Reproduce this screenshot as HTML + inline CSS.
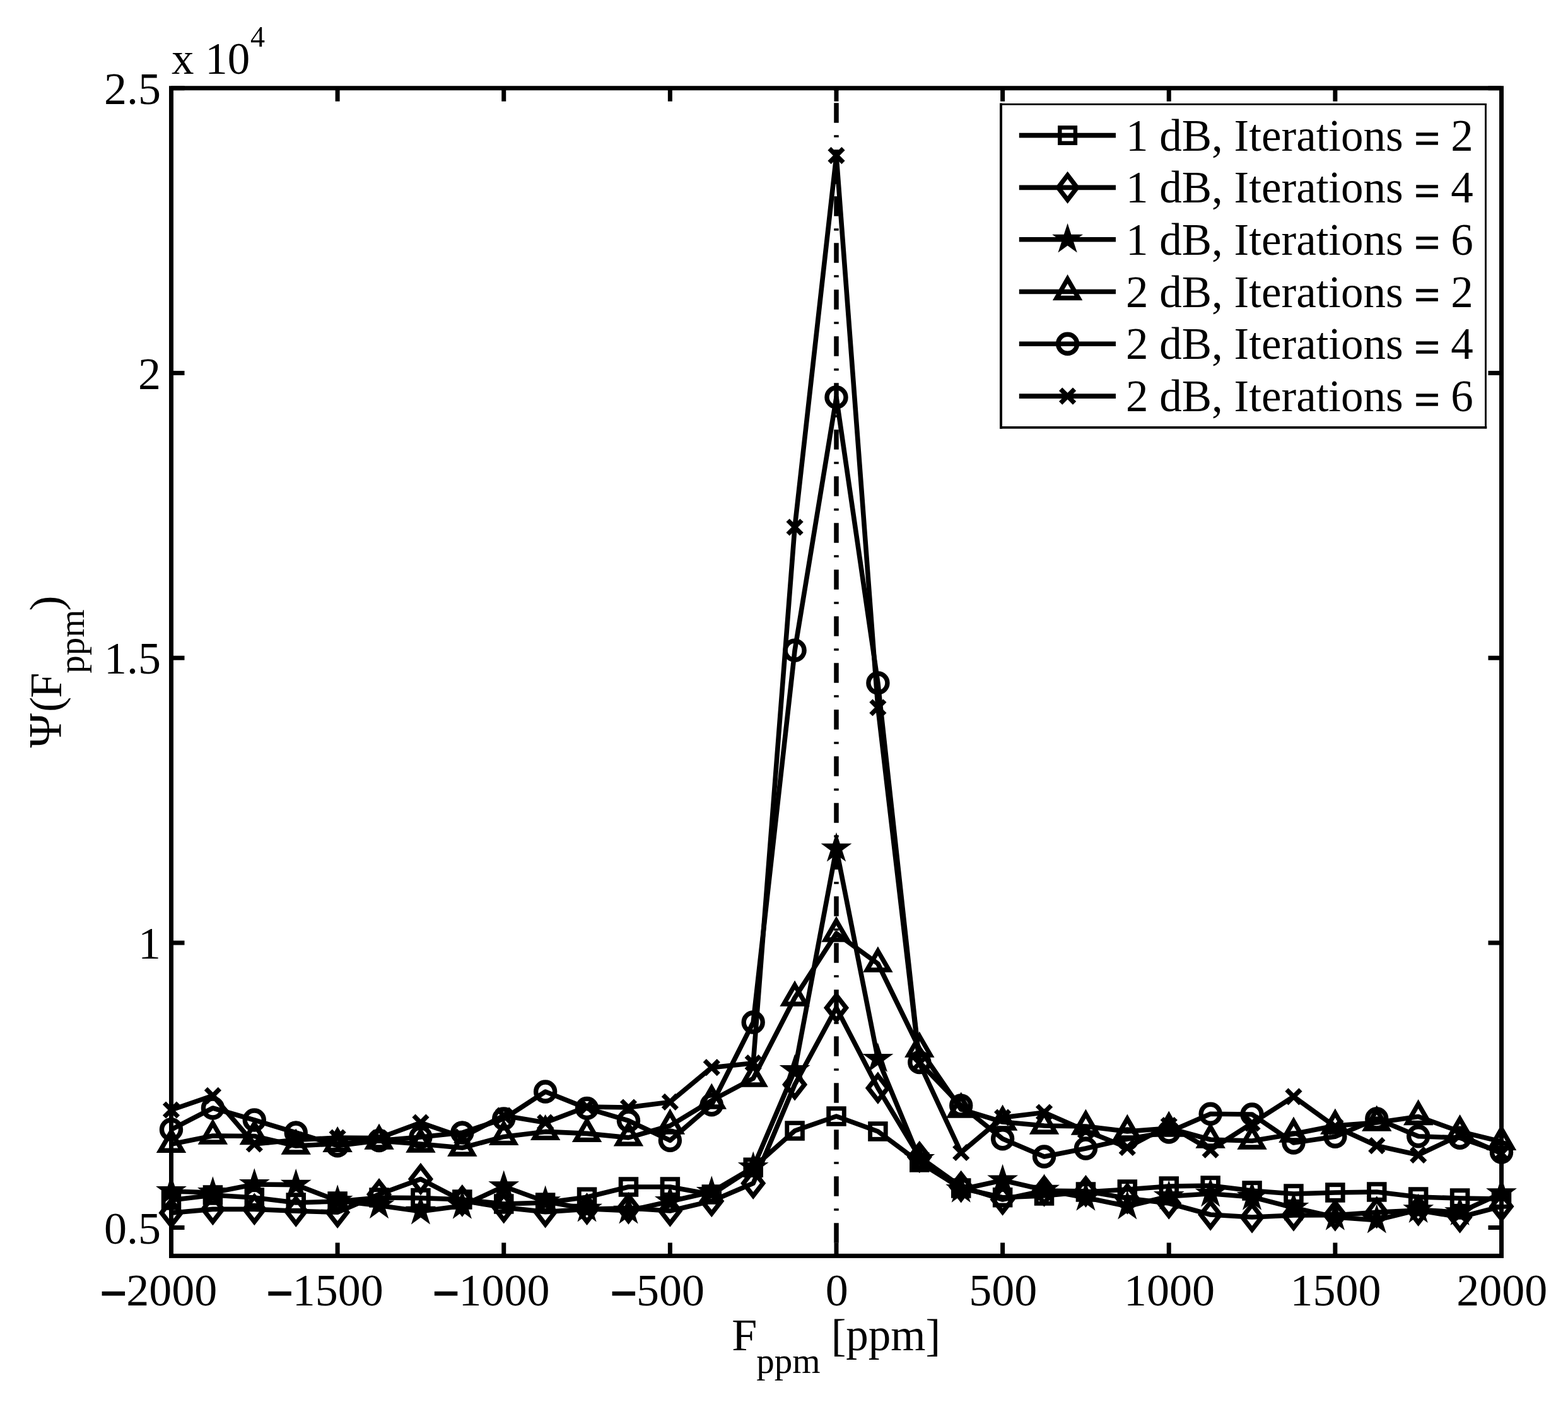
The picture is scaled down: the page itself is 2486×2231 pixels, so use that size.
<!DOCTYPE html>
<html lang="en"><head><meta charset="utf-8"><title>Psi(F_ppm) vs F_ppm</title>
<style>html,body{margin:0;padding:0;background:#fff}body{width:2486px;height:2231px;overflow:hidden}svg{display:block}
text{font-family:"Liberation Serif","DejaVu Serif",serif;fill:#000}
.ln{fill:none;stroke:#000;stroke-width:7.6;stroke-linejoin:round}
.mk{fill:none;stroke:#000;stroke-width:7.4;stroke-linejoin:miter;stroke-miterlimit:10}
.mk .fill{fill:#000;stroke:none}
.ax{fill:none;stroke:#000;stroke-width:7.0}
.t{font-size:72px}.mn{stroke:#000;stroke-width:3.0}.eq{stroke:#000;stroke-width:1.7}
</style></head><body>
<svg width="2486" height="2231" viewBox="0 0 2486 2231">
<rect width="2486" height="2231" fill="#fff"/>
<defs><clipPath id="c"><rect x="271.5" y="139.75" width="2109" height="1851.65"/></clipPath></defs>
<path class="ax" d="M271.5 1991.4V1970.4M271.5 139.75V160.75M535.12 1991.4V1970.4M535.12 139.75V160.75M798.75 1991.4V1970.4M798.75 139.75V160.75M1062.38 1991.4V1970.4M1062.38 139.75V160.75M1326 1991.4V1970.4M1326 139.75V160.75M1589.62 1991.4V1970.4M1589.62 139.75V160.75M1853.25 1991.4V1970.4M1853.25 139.75V160.75M2116.88 1991.4V1970.4M2116.88 139.75V160.75M2380.5 1991.4V1970.4M2380.5 139.75V160.75M271.5 139.75H292.5M2380.5 139.75H2359.5M271.5 591.46H292.5M2380.5 591.46H2359.5M271.5 1043.17H292.5M2380.5 1043.17H2359.5M271.5 1494.89H292.5M2380.5 1494.89H2359.5M271.5 1946.6H292.5M2380.5 1946.6H2359.5"/>
<path d="M1326 139.75 V1991.4" fill="none" stroke="#000" stroke-width="7.5" stroke-dasharray="31.5 19.5 3.5 19.5" stroke-dashoffset="-23.4"/>
<g clip-path="url(#c)">
<polyline class="ln" points="271.5,1903 337.41,1895 403.31,1899 469.22,1907 535.12,1905 601.03,1899 666.94,1899.6 732.84,1902 798.75,1909 864.66,1907 930.56,1898.2 996.47,1882 1062.38,1882 1128.28,1894 1194.19,1851.2 1260.09,1793 1326,1770 1391.91,1794 1457.81,1843 1523.72,1884 1589.62,1898.7 1655.53,1896 1721.44,1890 1787.34,1886 1853.25,1881 1919.16,1880 1985.06,1888 2050.97,1893 2116.88,1891 2182.78,1890 2248.69,1898 2314.59,1900 2380.5,1901"/>
<polyline class="ln" points="271.5,1923.2 337.41,1917.4 403.31,1917.4 469.22,1920.2 535.12,1922.2 601.03,1893.8 666.94,1869.6 732.84,1903.8 798.75,1914.6 864.66,1921.6 930.56,1917.2 996.47,1915.8 1062.38,1920 1128.28,1904.4 1194.19,1876.2 1260.09,1719.7 1326,1598 1391.91,1725.2 1457.81,1834.5 1523.72,1881.6 1589.62,1902 1655.53,1888 1721.44,1888.8 1787.34,1900 1853.25,1908 1919.16,1926 1985.06,1930 2050.97,1927 2116.88,1926.8 2182.78,1922.4 2248.69,1919 2314.59,1930 2380.5,1913"/>
<polyline class="ln" points="271.5,1889 337.41,1891 403.31,1878 469.22,1878.6 535.12,1904 601.03,1911.4 666.94,1920.7 732.84,1912 798.75,1881.3 864.66,1905.3 930.56,1916.7 996.47,1919.8 1062.38,1905 1128.28,1890 1194.19,1851.3 1260.09,1697 1326,1345.5 1391.91,1679 1457.81,1838 1523.72,1886 1589.62,1871.5 1655.53,1886.7 1721.44,1899 1787.34,1912.7 1853.25,1897 1919.16,1892.7 1985.06,1898 2050.97,1915 2116.88,1930 2182.78,1934.6 2248.69,1918.2 2314.59,1922.2 2380.5,1892.1"/>
<polyline class="ln" points="271.5,1814.3 337.41,1801 403.31,1801.5 469.22,1817 535.12,1813.4 601.03,1809 666.94,1814 732.84,1820 798.75,1802.4 864.66,1794.4 930.56,1797.4 996.47,1803.9 1062.38,1785 1128.28,1745 1194.19,1710 1260.09,1582 1326,1480 1391.91,1528 1457.81,1663 1523.72,1759 1589.62,1779 1655.53,1785 1721.44,1786 1787.34,1794 1853.25,1789 1919.16,1807 1985.06,1809 2050.97,1798 2116.88,1785 2182.78,1780 2248.69,1770.5 2314.59,1794.3 2380.5,1810.2"/>
<polyline class="ln" points="271.5,1791 337.41,1757 403.31,1776 469.22,1796 535.12,1816.7 601.03,1808.5 666.94,1803 732.84,1796 798.75,1774 864.66,1731 930.56,1757.4 996.47,1777 1062.38,1808.3 1128.28,1751.7 1194.19,1621 1260.09,1031.3 1326,630 1391.91,1083 1457.81,1684.5 1523.72,1753 1589.62,1805.7 1655.53,1834 1721.44,1821 1787.34,1806 1853.25,1795 1919.16,1766.3 1985.06,1767 2050.97,1812 2116.88,1802.2 2182.78,1774 2248.69,1801.7 2314.59,1804.2 2380.5,1827"/>
<polyline class="ln" points="271.5,1760 337.41,1737.3 403.31,1814 469.22,1807.5 535.12,1804 601.03,1804.5 666.94,1780.2 732.84,1803 798.75,1769 864.66,1780 930.56,1755 996.47,1756 1062.38,1747.4 1128.28,1692.7 1194.19,1685.7 1260.09,836 1326,246.7 1391.91,1122 1457.81,1686 1523.72,1827.5 1589.62,1772 1655.53,1764 1721.44,1793 1787.34,1819.5 1853.25,1784.5 1919.16,1823.2 1985.06,1781 2050.97,1738.8 2116.88,1786.5 2182.78,1816.7 2248.69,1831.3 2314.59,1800 2380.5,1829"/>
</g>
<g class="mk"><rect stroke-width="6.9" x="259.2" y="1890.7" width="24.6" height="24.6"/><rect stroke-width="6.9" x="325.11" y="1882.7" width="24.6" height="24.6"/><rect stroke-width="6.9" x="391.01" y="1886.7" width="24.6" height="24.6"/><rect stroke-width="6.9" x="456.92" y="1894.7" width="24.6" height="24.6"/><rect stroke-width="6.9" x="522.83" y="1892.7" width="24.6" height="24.6"/><rect stroke-width="6.9" x="588.73" y="1886.7" width="24.6" height="24.6"/><rect stroke-width="6.9" x="654.64" y="1887.3" width="24.6" height="24.6"/><rect stroke-width="6.9" x="720.54" y="1889.7" width="24.6" height="24.6"/><rect stroke-width="6.9" x="786.45" y="1896.7" width="24.6" height="24.6"/><rect stroke-width="6.9" x="852.36" y="1894.7" width="24.6" height="24.6"/><rect stroke-width="6.9" x="918.26" y="1885.9" width="24.6" height="24.6"/><rect stroke-width="6.9" x="984.17" y="1869.7" width="24.6" height="24.6"/><rect stroke-width="6.9" x="1050.08" y="1869.7" width="24.6" height="24.6"/><rect stroke-width="6.9" x="1115.98" y="1881.7" width="24.6" height="24.6"/><rect stroke-width="6.9" x="1181.89" y="1838.9" width="24.6" height="24.6"/><rect stroke-width="6.9" x="1247.79" y="1780.7" width="24.6" height="24.6"/><rect stroke-width="6.9" x="1313.7" y="1757.7" width="24.6" height="24.6"/><rect stroke-width="6.9" x="1379.61" y="1781.7" width="24.6" height="24.6"/><rect stroke-width="6.9" x="1445.51" y="1830.7" width="24.6" height="24.6"/><rect stroke-width="6.9" x="1511.42" y="1871.7" width="24.6" height="24.6"/><rect stroke-width="6.9" x="1577.33" y="1886.4" width="24.6" height="24.6"/><rect stroke-width="6.9" x="1643.23" y="1883.7" width="24.6" height="24.6"/><rect stroke-width="6.9" x="1709.14" y="1877.7" width="24.6" height="24.6"/><rect stroke-width="6.9" x="1775.04" y="1873.7" width="24.6" height="24.6"/><rect stroke-width="6.9" x="1840.95" y="1868.7" width="24.6" height="24.6"/><rect stroke-width="6.9" x="1906.86" y="1867.7" width="24.6" height="24.6"/><rect stroke-width="6.9" x="1972.76" y="1875.7" width="24.6" height="24.6"/><rect stroke-width="6.9" x="2038.67" y="1880.7" width="24.6" height="24.6"/><rect stroke-width="6.9" x="2104.57" y="1878.7" width="24.6" height="24.6"/><rect stroke-width="6.9" x="2170.48" y="1877.7" width="24.6" height="24.6"/><rect stroke-width="6.9" x="2236.39" y="1885.7" width="24.6" height="24.6"/><rect stroke-width="6.9" x="2302.29" y="1887.7" width="24.6" height="24.6"/><rect stroke-width="6.9" x="2368.2" y="1888.7" width="24.6" height="24.6"/></g>
<g class="mk"><path d="M271.5 1903.4L286.9 1923.2L271.5 1943L256.1 1923.2Z"/><path d="M337.41 1897.6L352.81 1917.4L337.41 1937.2L322.01 1917.4Z"/><path d="M403.31 1897.6L418.71 1917.4L403.31 1937.2L387.91 1917.4Z"/><path d="M469.22 1900.4L484.62 1920.2L469.22 1940L453.82 1920.2Z"/><path d="M535.12 1902.4L550.52 1922.2L535.12 1942L519.73 1922.2Z"/><path d="M601.03 1874L616.43 1893.8L601.03 1913.6L585.63 1893.8Z"/><path d="M666.94 1849.8L682.34 1869.6L666.94 1889.4L651.54 1869.6Z"/><path d="M732.84 1884L748.24 1903.8L732.84 1923.6L717.44 1903.8Z"/><path d="M798.75 1894.8L814.15 1914.6L798.75 1934.4L783.35 1914.6Z"/><path d="M864.66 1901.8L880.06 1921.6L864.66 1941.4L849.26 1921.6Z"/><path d="M930.56 1897.4L945.96 1917.2L930.56 1937L915.16 1917.2Z"/><path d="M996.47 1896L1011.87 1915.8L996.47 1935.6L981.07 1915.8Z"/><path d="M1062.38 1900.2L1077.78 1920L1062.38 1939.8L1046.97 1920Z"/><path d="M1128.28 1884.6L1143.68 1904.4L1128.28 1924.2L1112.88 1904.4Z"/><path d="M1194.19 1856.4L1209.59 1876.2L1194.19 1896L1178.79 1876.2Z"/><path d="M1260.09 1699.9L1275.49 1719.7L1260.09 1739.5L1244.69 1719.7Z"/><path d="M1326 1578.2L1341.4 1598L1326 1617.8L1310.6 1598Z"/><path d="M1391.91 1705.4L1407.31 1725.2L1391.91 1745L1376.51 1725.2Z"/><path d="M1457.81 1814.7L1473.21 1834.5L1457.81 1854.3L1442.41 1834.5Z"/><path d="M1523.72 1861.8L1539.12 1881.6L1523.72 1901.4L1508.32 1881.6Z"/><path d="M1589.62 1882.2L1605.03 1902L1589.62 1921.8L1574.22 1902Z"/><path d="M1655.53 1868.2L1670.93 1888L1655.53 1907.8L1640.13 1888Z"/><path d="M1721.44 1869L1736.84 1888.8L1721.44 1908.6L1706.04 1888.8Z"/><path d="M1787.34 1880.2L1802.74 1900L1787.34 1919.8L1771.94 1900Z"/><path d="M1853.25 1888.2L1868.65 1908L1853.25 1927.8L1837.85 1908Z"/><path d="M1919.16 1906.2L1934.56 1926L1919.16 1945.8L1903.76 1926Z"/><path d="M1985.06 1910.2L2000.46 1930L1985.06 1949.8L1969.66 1930Z"/><path d="M2050.97 1907.2L2066.37 1927L2050.97 1946.8L2035.57 1927Z"/><path d="M2116.88 1907L2132.28 1926.8L2116.88 1946.6L2101.47 1926.8Z"/><path d="M2182.78 1902.6L2198.18 1922.4L2182.78 1942.2L2167.38 1922.4Z"/><path d="M2248.69 1899.2L2264.09 1919L2248.69 1938.8L2233.29 1919Z"/><path d="M2314.59 1910.2L2329.99 1930L2314.59 1949.8L2299.19 1930Z"/><path d="M2380.5 1893.2L2395.9 1913L2380.5 1932.8L2365.1 1913Z"/></g>
<g class="mk"><polygon class="fill" points="271.5,1863.3 277.27,1881.06 295.94,1881.06 280.84,1892.03 286.61,1909.79 271.5,1898.82 256.39,1909.79 262.16,1892.03 247.06,1881.06 265.73,1881.06"/><polygon class="fill" points="337.41,1865.3 343.18,1883.06 361.85,1883.06 346.74,1894.03 352.51,1911.79 337.41,1900.82 322.3,1911.79 328.07,1894.03 312.96,1883.06 331.64,1883.06"/><polygon class="fill" points="403.31,1852.3 409.08,1870.06 427.75,1870.06 412.65,1881.03 418.42,1898.79 403.31,1887.82 388.21,1898.79 393.98,1881.03 378.87,1870.06 397.54,1870.06"/><polygon class="fill" points="469.22,1852.9 474.99,1870.66 493.66,1870.66 478.56,1881.63 484.32,1899.39 469.22,1888.42 454.11,1899.39 459.88,1881.63 444.78,1870.66 463.45,1870.66"/><polygon class="fill" points="535.12,1878.3 540.9,1896.06 559.57,1896.06 544.46,1907.03 550.23,1924.79 535.12,1913.82 520.02,1924.79 525.79,1907.03 510.68,1896.06 529.35,1896.06"/><polygon class="fill" points="601.03,1885.7 606.8,1903.46 625.47,1903.46 610.37,1914.43 616.14,1932.19 601.03,1921.22 585.93,1932.19 591.69,1914.43 576.59,1903.46 595.26,1903.46"/><polygon class="fill" points="666.94,1895 672.71,1912.76 691.38,1912.76 676.27,1923.73 682.04,1941.49 666.94,1930.52 651.83,1941.49 657.6,1923.73 642.5,1912.76 661.17,1912.76"/><polygon class="fill" points="732.84,1886.3 738.61,1904.06 757.29,1904.06 742.18,1915.03 747.95,1932.79 732.84,1921.82 717.74,1932.79 723.51,1915.03 708.4,1904.06 727.07,1904.06"/><polygon class="fill" points="798.75,1855.6 804.52,1873.36 823.19,1873.36 808.09,1884.33 813.86,1902.09 798.75,1891.12 783.64,1902.09 789.41,1884.33 774.31,1873.36 792.98,1873.36"/><polygon class="fill" points="864.66,1879.6 870.43,1897.36 889.1,1897.36 873.99,1908.33 879.76,1926.09 864.66,1915.12 849.55,1926.09 855.32,1908.33 840.21,1897.36 858.89,1897.36"/><polygon class="fill" points="930.56,1891 936.33,1908.76 955,1908.76 939.9,1919.73 945.67,1937.49 930.56,1926.52 915.46,1937.49 921.23,1919.73 906.12,1908.76 924.79,1908.76"/><polygon class="fill" points="996.47,1894.1 1002.24,1911.86 1020.91,1911.86 1005.81,1922.83 1011.57,1940.59 996.47,1929.62 981.36,1940.59 987.13,1922.83 972.03,1911.86 990.7,1911.86"/><polygon class="fill" points="1062.38,1879.3 1068.15,1897.06 1086.82,1897.06 1071.71,1908.03 1077.48,1925.79 1062.38,1914.82 1047.27,1925.79 1053.04,1908.03 1037.93,1897.06 1056.6,1897.06"/><polygon class="fill" points="1128.28,1864.3 1134.05,1882.06 1152.72,1882.06 1137.62,1893.03 1143.39,1910.79 1128.28,1899.82 1113.18,1910.79 1118.94,1893.03 1103.84,1882.06 1122.51,1882.06"/><polygon class="fill" points="1194.19,1825.6 1199.96,1843.36 1218.63,1843.36 1203.52,1854.33 1209.29,1872.09 1194.19,1861.12 1179.08,1872.09 1184.85,1854.33 1169.75,1843.36 1188.42,1843.36"/><polygon class="fill" points="1260.09,1671.3 1265.86,1689.06 1284.54,1689.06 1269.43,1700.03 1275.2,1717.79 1260.09,1706.82 1244.99,1717.79 1250.76,1700.03 1235.65,1689.06 1254.32,1689.06"/><polygon class="fill" points="1326,1319.8 1331.77,1337.56 1350.44,1337.56 1335.34,1348.53 1341.11,1366.29 1326,1355.32 1310.89,1366.29 1316.66,1348.53 1301.56,1337.56 1320.23,1337.56"/><polygon class="fill" points="1391.91,1653.3 1397.68,1671.06 1416.35,1671.06 1401.24,1682.03 1407.01,1699.79 1391.91,1688.82 1376.8,1699.79 1382.57,1682.03 1367.46,1671.06 1386.14,1671.06"/><polygon class="fill" points="1457.81,1812.3 1463.58,1830.06 1482.25,1830.06 1467.15,1841.03 1472.92,1858.79 1457.81,1847.82 1442.71,1858.79 1448.48,1841.03 1433.37,1830.06 1452.04,1830.06"/><polygon class="fill" points="1523.72,1860.3 1529.49,1878.06 1548.16,1878.06 1533.06,1889.03 1538.82,1906.79 1523.72,1895.82 1508.61,1906.79 1514.38,1889.03 1499.28,1878.06 1517.95,1878.06"/><polygon class="fill" points="1589.62,1845.8 1595.4,1863.56 1614.07,1863.56 1598.96,1874.53 1604.73,1892.29 1589.62,1881.32 1574.52,1892.29 1580.29,1874.53 1565.18,1863.56 1583.85,1863.56"/><polygon class="fill" points="1655.53,1861 1661.3,1878.76 1679.97,1878.76 1664.87,1889.73 1670.64,1907.49 1655.53,1896.52 1640.43,1907.49 1646.19,1889.73 1631.09,1878.76 1649.76,1878.76"/><polygon class="fill" points="1721.44,1873.3 1727.21,1891.06 1745.88,1891.06 1730.77,1902.03 1736.54,1919.79 1721.44,1908.82 1706.33,1919.79 1712.1,1902.03 1697,1891.06 1715.67,1891.06"/><polygon class="fill" points="1787.34,1887 1793.11,1904.76 1811.79,1904.76 1796.68,1915.73 1802.45,1933.49 1787.34,1922.52 1772.24,1933.49 1778.01,1915.73 1762.9,1904.76 1781.57,1904.76"/><polygon class="fill" points="1853.25,1871.3 1859.02,1889.06 1877.69,1889.06 1862.59,1900.03 1868.36,1917.79 1853.25,1906.82 1838.14,1917.79 1843.91,1900.03 1828.81,1889.06 1847.48,1889.06"/><polygon class="fill" points="1919.16,1867 1924.93,1884.76 1943.6,1884.76 1928.49,1895.73 1934.26,1913.49 1919.16,1902.52 1904.05,1913.49 1909.82,1895.73 1894.71,1884.76 1913.39,1884.76"/><polygon class="fill" points="1985.06,1872.3 1990.83,1890.06 2009.5,1890.06 1994.4,1901.03 2000.17,1918.79 1985.06,1907.82 1969.96,1918.79 1975.73,1901.03 1960.62,1890.06 1979.29,1890.06"/><polygon class="fill" points="2050.97,1889.3 2056.74,1907.06 2075.41,1907.06 2060.31,1918.03 2066.07,1935.79 2050.97,1924.82 2035.86,1935.79 2041.63,1918.03 2026.53,1907.06 2045.2,1907.06"/><polygon class="fill" points="2116.88,1904.3 2122.65,1922.06 2141.32,1922.06 2126.21,1933.03 2131.98,1950.79 2116.88,1939.82 2101.77,1950.79 2107.54,1933.03 2092.43,1922.06 2111.1,1922.06"/><polygon class="fill" points="2182.78,1908.9 2188.55,1926.66 2207.22,1926.66 2192.12,1937.63 2197.89,1955.39 2182.78,1944.42 2167.68,1955.39 2173.44,1937.63 2158.34,1926.66 2177.01,1926.66"/><polygon class="fill" points="2248.69,1892.5 2254.46,1910.26 2273.13,1910.26 2258.02,1921.23 2263.79,1938.99 2248.69,1928.02 2233.58,1938.99 2239.35,1921.23 2224.25,1910.26 2242.92,1910.26"/><polygon class="fill" points="2314.59,1896.5 2320.36,1914.26 2339.04,1914.26 2323.93,1925.23 2329.7,1942.99 2314.59,1932.02 2299.49,1942.99 2305.26,1925.23 2290.15,1914.26 2308.82,1914.26"/><polygon class="fill" points="2380.5,1866.4 2386.27,1884.16 2404.94,1884.16 2389.84,1895.13 2395.61,1912.89 2380.5,1901.92 2365.39,1912.89 2371.16,1895.13 2356.06,1884.16 2374.73,1884.16"/></g>
<g class="mk"><polygon points="271.5,1794.3 288.82,1824.3 254.18,1824.3"/><polygon points="337.41,1781 354.73,1811 320.09,1811"/><polygon points="403.31,1781.5 420.63,1811.5 385.99,1811.5"/><polygon points="469.22,1797 486.54,1827 451.9,1827"/><polygon points="535.12,1793.4 552.45,1823.4 517.8,1823.4"/><polygon points="601.03,1789 618.35,1819 583.71,1819"/><polygon points="666.94,1794 684.26,1824 649.62,1824"/><polygon points="732.84,1800 750.16,1830 715.52,1830"/><polygon points="798.75,1782.4 816.07,1812.4 781.43,1812.4"/><polygon points="864.66,1774.4 881.98,1804.4 847.34,1804.4"/><polygon points="930.56,1777.4 947.88,1807.4 913.24,1807.4"/><polygon points="996.47,1783.9 1013.79,1813.9 979.15,1813.9"/><polygon points="1062.38,1765 1079.7,1795 1045.05,1795"/><polygon points="1128.28,1725 1145.6,1755 1110.96,1755"/><polygon points="1194.19,1690 1211.51,1720 1176.87,1720"/><polygon points="1260.09,1562 1277.41,1592 1242.77,1592"/><polygon points="1326,1460 1343.32,1490 1308.68,1490"/><polygon points="1391.91,1508 1409.23,1538 1374.59,1538"/><polygon points="1457.81,1643 1475.13,1673 1440.49,1673"/><polygon points="1523.72,1739 1541.04,1769 1506.4,1769"/><polygon points="1589.62,1759 1606.95,1789 1572.3,1789"/><polygon points="1655.53,1765 1672.85,1795 1638.21,1795"/><polygon points="1721.44,1766 1738.76,1796 1704.12,1796"/><polygon points="1787.34,1774 1804.66,1804 1770.02,1804"/><polygon points="1853.25,1769 1870.57,1799 1835.93,1799"/><polygon points="1919.16,1787 1936.48,1817 1901.84,1817"/><polygon points="1985.06,1789 2002.38,1819 1967.74,1819"/><polygon points="2050.97,1778 2068.29,1808 2033.65,1808"/><polygon points="2116.88,1765 2134.2,1795 2099.55,1795"/><polygon points="2182.78,1760 2200.1,1790 2165.46,1790"/><polygon points="2248.69,1750.5 2266.01,1780.5 2231.37,1780.5"/><polygon points="2314.59,1774.3 2331.91,1804.3 2297.27,1804.3"/><polygon points="2380.5,1790.2 2397.82,1820.2 2363.18,1820.2"/></g>
<g class="mk"><circle cx="271.5" cy="1791" r="15"/><circle cx="337.41" cy="1757" r="15"/><circle cx="403.31" cy="1776" r="15"/><circle cx="469.22" cy="1796" r="15"/><circle cx="535.12" cy="1816.7" r="15"/><circle cx="601.03" cy="1808.5" r="15"/><circle cx="666.94" cy="1803" r="15"/><circle cx="732.84" cy="1796" r="15"/><circle cx="798.75" cy="1774" r="15"/><circle cx="864.66" cy="1731" r="15"/><circle cx="930.56" cy="1757.4" r="15"/><circle cx="996.47" cy="1777" r="15"/><circle cx="1062.38" cy="1808.3" r="15"/><circle cx="1128.28" cy="1751.7" r="15"/><circle cx="1194.19" cy="1621" r="15"/><circle cx="1260.09" cy="1031.3" r="15"/><circle cx="1326" cy="630" r="15"/><circle cx="1391.91" cy="1083" r="15"/><circle cx="1457.81" cy="1684.5" r="15"/><circle cx="1523.72" cy="1753" r="15"/><circle cx="1589.62" cy="1805.7" r="15"/><circle cx="1655.53" cy="1834" r="15"/><circle cx="1721.44" cy="1821" r="15"/><circle cx="1787.34" cy="1806" r="15"/><circle cx="1853.25" cy="1795" r="15"/><circle cx="1919.16" cy="1766.3" r="15"/><circle cx="1985.06" cy="1767" r="15"/><circle cx="2050.97" cy="1812" r="15"/><circle cx="2116.88" cy="1802.2" r="15"/><circle cx="2182.78" cy="1774" r="15"/><circle cx="2248.69" cy="1801.7" r="15"/><circle cx="2314.59" cy="1804.2" r="15"/><circle cx="2380.5" cy="1827" r="15"/></g>
<g class="mk"><path d="M260.5 1749L282.5 1771M260.5 1771L282.5 1749"/><path d="M326.41 1726.3L348.41 1748.3M326.41 1748.3L348.41 1726.3"/><path d="M392.31 1803L414.31 1825M392.31 1825L414.31 1803"/><path d="M458.22 1796.5L480.22 1818.5M458.22 1818.5L480.22 1796.5"/><path d="M524.12 1793L546.12 1815M524.12 1815L546.12 1793"/><path d="M590.03 1793.5L612.03 1815.5M590.03 1815.5L612.03 1793.5"/><path d="M655.94 1769.2L677.94 1791.2M655.94 1791.2L677.94 1769.2"/><path d="M721.84 1792L743.84 1814M721.84 1814L743.84 1792"/><path d="M787.75 1758L809.75 1780M787.75 1780L809.75 1758"/><path d="M853.66 1769L875.66 1791M853.66 1791L875.66 1769"/><path d="M919.56 1744L941.56 1766M919.56 1766L941.56 1744"/><path d="M985.47 1745L1007.47 1767M985.47 1767L1007.47 1745"/><path d="M1051.38 1736.4L1073.38 1758.4M1051.38 1758.4L1073.38 1736.4"/><path d="M1117.28 1681.7L1139.28 1703.7M1117.28 1703.7L1139.28 1681.7"/><path d="M1183.19 1674.7L1205.19 1696.7M1183.19 1696.7L1205.19 1674.7"/><path d="M1249.09 825L1271.09 847M1249.09 847L1271.09 825"/><path d="M1315 235.7L1337 257.7M1315 257.7L1337 235.7"/><path d="M1380.91 1111L1402.91 1133M1380.91 1133L1402.91 1111"/><path d="M1446.81 1675L1468.81 1697M1446.81 1697L1468.81 1675"/><path d="M1512.72 1816.5L1534.72 1838.5M1512.72 1838.5L1534.72 1816.5"/><path d="M1578.62 1761L1600.62 1783M1578.62 1783L1600.62 1761"/><path d="M1644.53 1753L1666.53 1775M1644.53 1775L1666.53 1753"/><path d="M1710.44 1782L1732.44 1804M1710.44 1804L1732.44 1782"/><path d="M1776.34 1808.5L1798.34 1830.5M1776.34 1830.5L1798.34 1808.5"/><path d="M1842.25 1773.5L1864.25 1795.5M1842.25 1795.5L1864.25 1773.5"/><path d="M1908.16 1812.2L1930.16 1834.2M1908.16 1834.2L1930.16 1812.2"/><path d="M1974.06 1770L1996.06 1792M1974.06 1792L1996.06 1770"/><path d="M2039.97 1727.8L2061.97 1749.8M2039.97 1749.8L2061.97 1727.8"/><path d="M2105.88 1775.5L2127.88 1797.5M2105.88 1797.5L2127.88 1775.5"/><path d="M2171.78 1805.7L2193.78 1827.7M2171.78 1827.7L2193.78 1805.7"/><path d="M2237.69 1820.3L2259.69 1842.3M2237.69 1842.3L2259.69 1820.3"/><path d="M2303.59 1789L2325.59 1811M2303.59 1811L2325.59 1789"/><path d="M2369.5 1818L2391.5 1840M2369.5 1840L2391.5 1818"/></g>
<rect class="ax" x="271.5" y="139.75" width="2109" height="1851.65"/>
<text class="t" y="2070.3"><tspan class="mn" x="159.62" dy="4.3">−</tspan><tspan x="200.2" dy="-4.3">2000</tspan></text>
<text class="t" y="2070.3"><tspan class="mn" x="423.25" dy="4.3">−</tspan><tspan x="463.83" dy="-4.3">1500</tspan></text>
<text class="t" y="2070.3"><tspan class="mn" x="686.87" dy="4.3">−</tspan><tspan x="727.45" dy="-4.3">1000</tspan></text>
<text class="t" y="2070.3"><tspan class="mn" x="968.5" dy="4.3">−</tspan><tspan x="1009.08" dy="-4.3">500</tspan></text>
<text class="t" x="1326.7" y="2070.3" text-anchor="middle">0</text>
<text class="t" x="1590.33" y="2070.3" text-anchor="middle">500</text>
<text class="t" x="1853.95" y="2070.3" text-anchor="middle">1000</text>
<text class="t" x="2117.57" y="2070.3" text-anchor="middle">1500</text>
<text class="t" x="2381.2" y="2070.3" text-anchor="middle">2000</text>
<text class="t" x="254.9" y="164.95" text-anchor="end">2.5</text>
<text class="t" x="254.9" y="616.66" text-anchor="end">2</text>
<text class="t" x="254.9" y="1068.38" text-anchor="end">1.5</text>
<text class="t" x="254.9" y="1520.09" text-anchor="end">1</text>
<text class="t" x="254.9" y="1971.8" text-anchor="end">0.5</text>
<text x="272" y="117.4" font-size="71px">x 10</text>
<text x="397" y="74" font-size="46px">4</text>
<text x="1160.3" y="2140.7" font-size="72px">F</text>
<text x="1199.2" y="2176.9" font-size="57px">ppm</text>
<text x="1317.7" y="2140.7" font-size="71px">[ppm]</text>
<text transform="translate(96.9 1185.7) rotate(-90)" font-size="74px">&#936;</text>
<text transform="translate(96.9 1129.1) rotate(-90)" font-size="72px">(</text>
<text transform="translate(96.9 1106.8) rotate(-90)" font-size="72px">F</text>
<text transform="translate(132.6 1067.7) rotate(-90)" font-size="57px">ppm</text>
<text transform="translate(96.9 968.6) rotate(-90)" font-size="72px">)</text>
<rect x="1587" y="165.4" width="768.5" height="512.5" fill="#fff"/>
<g fill="none" stroke="#000" stroke-linecap="square"><path stroke-width="4.0" d="M1587 165.4V677.9"/><path stroke-width="2.8" d="M1587 165.4H2355.5"/><path stroke-width="2.9" d="M2355.5 165.4V677.9"/><path stroke-width="3.7" d="M1587 677.9H2355.5"/></g>
<path class="ln" d="M1615.8 214.6H1769"/>
<g class="mk"><rect stroke-width="6.4" x="1680.3" y="202.3" width="24.6" height="24.6"/></g>
<text x="1785" y="238.6" font-size="71px">1 dB, Iterations <tspan class="eq" dy="5.5">=</tspan><tspan dy="-5.5"> 2</tspan></text>
<path class="ln" d="M1615.8 297.4H1769"/>
<g class="mk"><path d="M1692.6 277.8L1707.6 297.4L1692.6 317L1677.6 297.4Z"/></g>
<text x="1785" y="321.4" font-size="71px">1 dB, Iterations <tspan class="eq" dy="5.5">=</tspan><tspan dy="-5.5"> 4</tspan></text>
<path class="ln" d="M1615.8 379.8H1769"/>
<g class="mk"><polygon class="fill" points="1692.6,354.1 1698.37,371.86 1717.04,371.86 1701.94,382.83 1707.71,400.59 1692.6,389.62 1677.49,400.59 1683.26,382.83 1668.16,371.86 1686.83,371.86"/></g>
<text x="1785" y="403.8" font-size="71px">1 dB, Iterations <tspan class="eq" dy="5.5">=</tspan><tspan dy="-5.5"> 6</tspan></text>
<path class="ln" d="M1615.8 462.5H1769"/>
<g class="mk"><polygon points="1692.6,442.5 1709.92,472.5 1675.28,472.5"/></g>
<text x="1785" y="486.5" font-size="71px">2 dB, Iterations <tspan class="eq" dy="5.5">=</tspan><tspan dy="-5.5"> 2</tspan></text>
<path class="ln" d="M1615.8 545.3H1769"/>
<g class="mk"><circle cx="1692.6" cy="545.3" r="15"/></g>
<text x="1785" y="569.3" font-size="71px">2 dB, Iterations <tspan class="eq" dy="5.5">=</tspan><tspan dy="-5.5"> 4</tspan></text>
<path class="ln" d="M1615.8 628.1H1769"/>
<g class="mk"><path d="M1681.6 617.1L1703.6 639.1M1681.6 639.1L1703.6 617.1"/></g>
<text x="1785" y="652.1" font-size="71px">2 dB, Iterations <tspan class="eq" dy="5.5">=</tspan><tspan dy="-5.5"> 6</tspan></text>
</svg></body></html>
